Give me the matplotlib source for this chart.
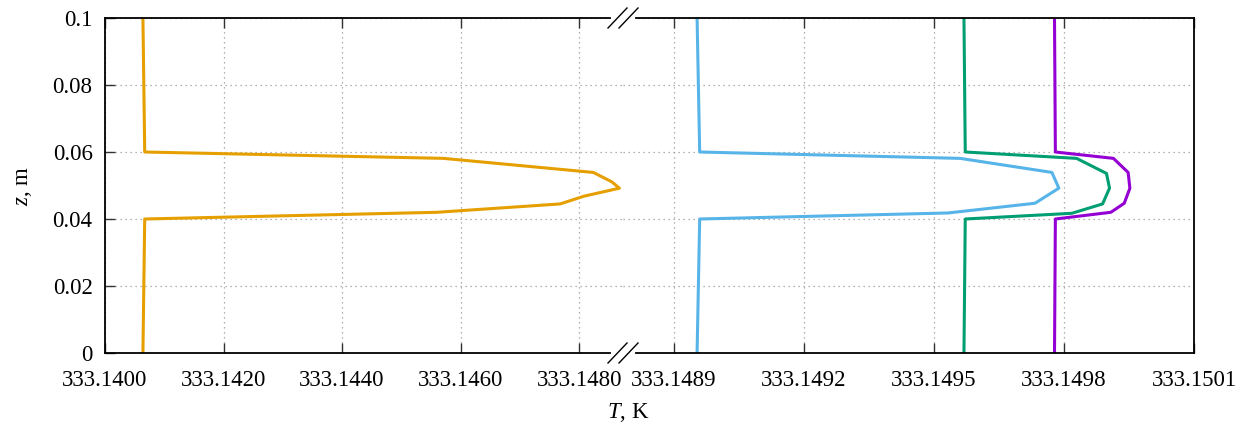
import numpy as np
import matplotlib
matplotlib.use('Agg')
import matplotlib.pyplot as plt
from matplotlib.lines import Line2D

plt.rcParams['font.family'] = ['Liberation Serif', 'DejaVu Serif']
plt.rcParams['mathtext.fontset'] = 'custom'
plt.rcParams['mathtext.rm'] = 'Liberation Serif'
plt.rcParams['mathtext.it'] = 'Liberation Serif:italic'

# data
z_orange = [0, 0.04, 0.042, 0.0445, 0.0468, 0.0492, 0.0511, 0.0539, 0.0581, 0.06, 0.1]
T_orange = [333.14064, 333.14067, 333.14560, 333.14768, 333.14808, 333.14868,
            333.14855, 333.14824, 333.14571, 333.14067, 333.14064]

z_blue = [0, 0.04, 0.0418, 0.0447, 0.0492, 0.0539, 0.0581, 0.06, 0.1]
T_blue = [333.148953, 333.148959, 333.149532, 333.149733, 333.149788,
          333.149772, 333.149560, 333.148959, 333.148953]

z_green = [0, 0.04, 0.0417, 0.0445, 0.0492, 0.0536, 0.0581, 0.06, 0.1]
T_green = [333.149569, 333.149572, 333.149818, 333.149889, 333.149905,
           333.149898, 333.149829, 333.149572, 333.149569]

z_purple = [0, 0.04, 0.042, 0.0447, 0.0492, 0.0539, 0.0581, 0.06, 0.1]
T_purple = [333.149778, 333.149780, 333.149908, 333.149939, 333.149952,
            333.149948, 333.149914, 333.149780, 333.149778]

left_ticks = [333.1400, 333.1420, 333.1440, 333.1460, 333.1480]
right_ticks = [333.1489, 333.1492, 333.1495, 333.1498, 333.1501]
z_ticks = [0, 0.02, 0.04, 0.06, 0.08, 0.1]
z_labels = ['0', '0.02', '0.04', '0.06', '0.08', '0.1']

W, H = 1247, 432
fig = plt.figure(figsize=(W / 100, H / 100), dpi=100)

def fx(px):
    return px / W

def fy(py):
    return 1 - py / H

x0, xb, x1 = 105, 623, 1194
ytop, ybot = 18, 353
ax1 = fig.add_axes([fx(x0), fy(ybot), (xb - x0) / W, (ybot - ytop) / H])
ax2 = fig.add_axes([fx(xb), fy(ybot), (x1 - xb) / W, (ybot - ytop) / H])

lw = 2.2
ax1.plot(T_orange, z_orange, color='#E69F00', lw=lw)
ax2.plot(T_blue, z_blue, color='#56B4E9', lw=lw)
ax2.plot(T_green, z_green, color='#009E73', lw=lw)
ax2.plot(T_purple, z_purple, color='#9400D3', lw=lw)

ax1.set_xlim(333.14, 333.14874)
ax2.set_xlim(333.148782, 333.1501)
for ax in (ax1, ax2):
    ax.set_ylim(0, 0.1)
    ax.set_yticks(z_ticks)
    ax.grid(True, color='#999999', linestyle=(0, (1, 3)), linewidth=0.9)
    ax.tick_params(direction='in', length=7, width=1.0, top=True,
                   labelsize=16.5, color='#333333')
    ax.tick_params(axis='x', pad=12)
    ax.tick_params(axis='y', pad=9)
    for s in ax.spines.values():
        s.set_linewidth(1.3)

ax1.set_xticks(left_ticks)
ax1.set_xticklabels(['%.4f' % t for t in left_ticks])
ax1.set_yticklabels(z_labels)
ax1.spines['right'].set_visible(False)

ax2.set_xticks(right_ticks)
ax2.set_xticklabels(['%.4f' % t for t in right_ticks])
ax2.tick_params(left=False, labelleft=False)
ax2.spines['left'].set_visible(False)

# axis break marks
for yy in (ytop, ybot):
    fig.add_artist(Line2D([fx(613), fx(633)], [fy(yy), fy(yy)], color='white', lw=3, zorder=10))
    for dx in (0, 11):
        fig.add_artist(Line2D([fx(608 + dx), fx(627 + dx)], [fy(yy + 10), fy(yy - 10)],
                              color='black', lw=1.0, zorder=11))

fig.text(fx(628), fy(413), r'$T$, K', ha='center', va='center', fontsize=16.5)
fig.text(fx(24), fy(186), r'$z$, m', ha='center', va='center', fontsize=16.5, rotation=90)

fig.savefig('out.png', dpi=100)
